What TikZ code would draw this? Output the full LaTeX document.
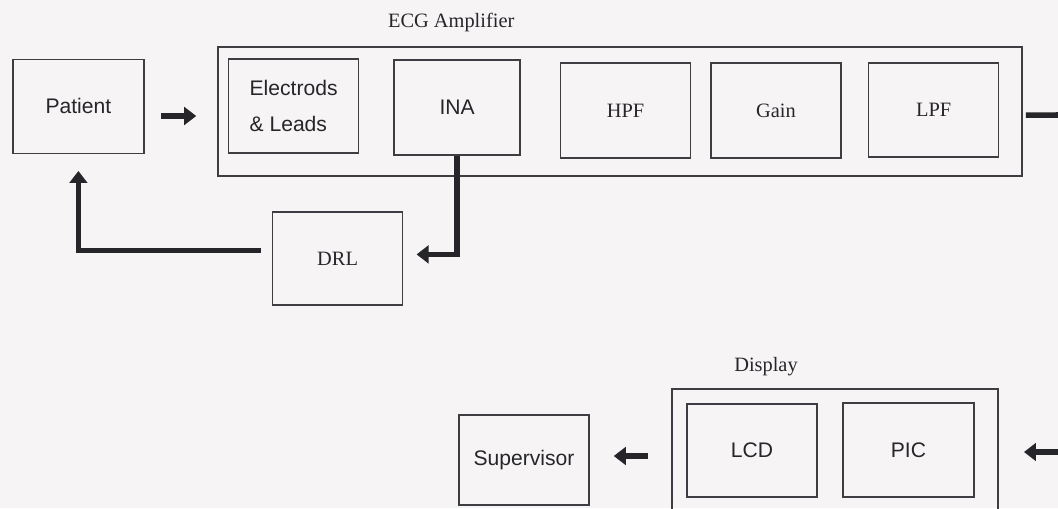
\documentclass[tikz,border=0pt]{standalone}
\usepackage{fontspec}
\setmainfont{Liberation Serif}
\newfontfamily\arialfont{Liberation Sans}
\usetikzlibrary{arrows.meta}
\definecolor{scanpaper}{RGB}{246,244,245}
\definecolor{boxline}{RGB}{62,62,66}
\definecolor{inkdark}{RGB}{38,38,42}

\begin{document}
\begin{tikzpicture}[>={Triangle[length=3mm,width=4.4mm]},
    font=\fontsize{14.5pt}{17pt}\selectfont,
    blk/.style={draw=boxline, line width=1.1pt, minimum width=3.25cm,
      minimum height=2.35cm, text=inkdark, inner sep=0pt},
    sansblk/.style={blk, font=\arialfont\fontsize{15pt}{17pt}\selectfont},
    group/.style={draw=boxline, line width=1.1pt, inner sep=0pt},
    fat/.style={draw=inkdark, line width=4pt}]
  \fill[scanpaper] (0,0) rectangle (26.45,12.7);
  \useasboundingbox (0,0) rectangle (26.45,12.7);
  % amplifier chain, top row
  \node[group, minimum width=20.1cm, minimum height=3.23cm] (ampbox) at (15.5,9.91) {};
  \node[text=inkdark] (amplbl) at (11.28,12.15) {ECG Amplifier};
  \node[sansblk, minimum width=3.28cm] (patient) at (1.96,10.04) {Patient};
  \node[sansblk, align=left, font=\arialfont\fontsize{15pt}{25pt}\selectfont]
    (electrodes) at (7.34,10.05) {Electrods\\\& Leads};
  \node[sansblk, minimum width=3.15cm, minimum height=2.38cm] (ina) at (11.43,10.01) {INA};
  \node[blk, minimum height=2.38cm] (hpf) at (15.64,9.94) {HPF};
  \node[blk, minimum height=2.38cm] (gain) at (19.4,9.94) {Gain};
  \node[blk] (lpf) at (23.34,9.95) {LPF};
  \node[blk, minimum height=2.33cm] (drl) at (8.44,6.24) {DRL};
  % display part, bottom row
  \node[group, minimum width=8.15cm, minimum height=3.08cm] (display) at (20.88,1.44) {};
  \node[text=inkdark] (displbl) at (19.15,3.53) {Display};
  \node[sansblk, minimum height=2.33cm] (lcd) at (18.8,1.44) {LCD};
  \node[sansblk, minimum width=3.28cm] (pic) at (22.71,1.45) {PIC};
  \node[sansblk, minimum height=2.25cm] (supervisor) at (13.1,1.2) {Supervisor};
  \coordinate (lpfout) at (26.8,9.825);
  \coordinate (dispin) at (26.8,1.4);
  % connectors
  \draw[fat, ->, shorten <=0.4cm, shorten >=0.525cm]
    ([yshift=-2.4mm]patient.east) -- ([yshift=-2.4mm]patient.east -| ampbox.west);
  \draw[fat, shorten <=0.075cm] ([yshift=-0.9mm]ampbox.east) -- (lpfout);
  \draw[fat, ->, shorten >=0.33cm] (ina.south) |- ([yshift=1mm]drl.east);
  \draw[fat, ->, shorten <=0.28cm, shorten >=0.42cm]
    ([yshift=2mm]drl.west) -| (patient.south);
  \draw[fat, ->, shorten >=0.625cm] (dispin) -- (dispin -| display.east);
  \draw[fat, ->, shorten <=0.575cm, shorten >=0.6cm]
    ([yshift=-1.4mm]display.west) -- ([yshift=-1.4mm]display.west -| supervisor.east);
\end{tikzpicture}
\end{document}
